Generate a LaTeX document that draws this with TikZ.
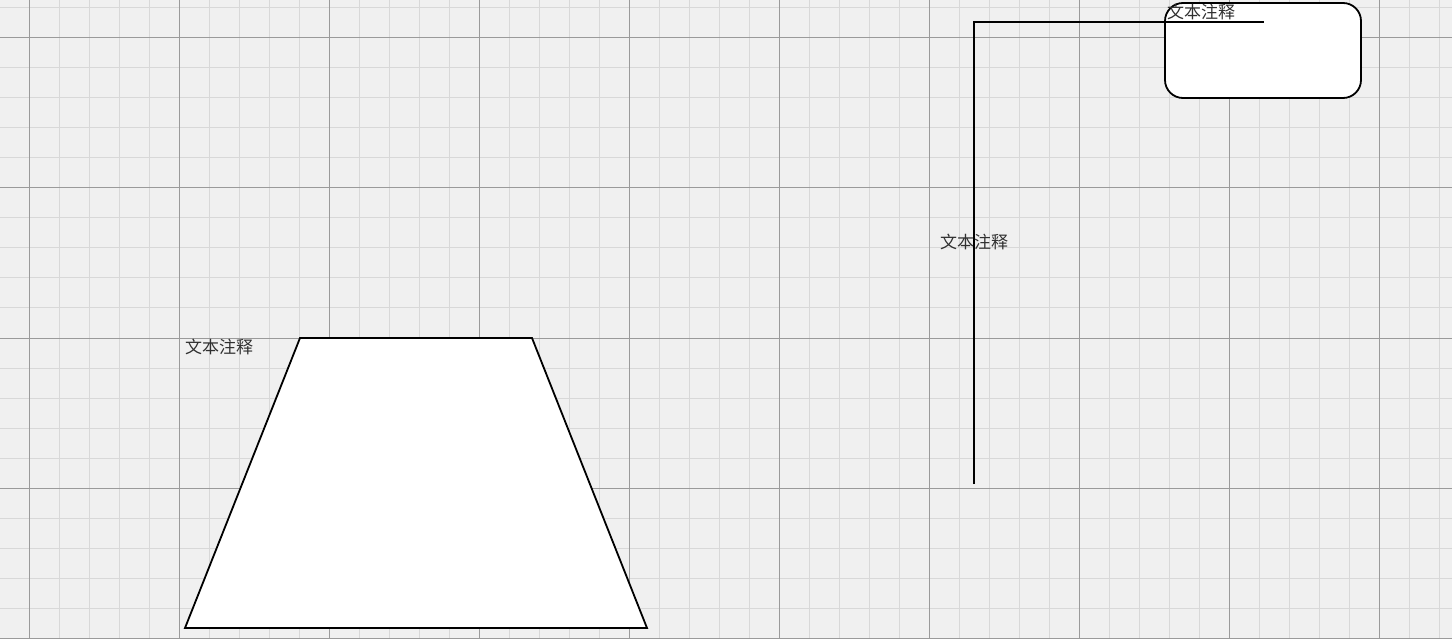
\documentclass[tikz,border=0pt]{standalone}
\usepackage{fontspec}
\newfontfamily\cjk{Noto Sans CJK SC}
\definecolor{paper}{HTML}{F0F0F0}
\definecolor{minorgrid}{HTML}{D8D8D8}
\definecolor{majorgrid}{HTML}{9A9A9A}
\definecolor{notetext}{HTML}{303030}
\begin{document}
\begin{tikzpicture}[x=1pt, y=-1pt,
  shapeline/.style={draw=black, line width=1.8pt, fill=white},
  notelabel/.style={font=\cjk\fontsize{17}{17}\selectfont, text=notetext, inner sep=0pt}]
\useasboundingbox (0,0) rectangle (1452,639);
\fill[paper] (0,0) rectangle (1452,639);

% grid
\foreach \x in {29,59,...,1439} \draw[minorgrid, line width=1pt] (\x,0) -- (\x,639);
\foreach \y in {8,38,...,638} \draw[minorgrid, line width=1pt] (0,\y) -- (1452,\y);
\foreach \x in {29,179,...,1379} \draw[majorgrid, line width=1pt] (\x,0) -- (\x,639);
\foreach \y in {38,188,...,638} \draw[majorgrid, line width=1pt] (0,\y) -- (1452,\y);

% trapezoid
\draw[shapeline, line join=miter] (300,338) coordinate (tl) -- (532,338) coordinate (tr)
  -- (647,628) coordinate (br) -- (185,628) coordinate (bl) -- cycle;
\node[notelabel, anchor=west] (lbltrap) at (185,347) {文本注释};

% rounded box
\node[shapeline, rounded corners=18pt, minimum width=196pt, minimum height=95pt,
  inner sep=0pt] (box) at (1263,50.5) {};
\node[notelabel, anchor=west] (lblbox) at (1167,12) {文本注释};

% connector
\coordinate (start) at (974,484);
\coordinate (tip) at (1264,22);
\draw[line width=1.8pt] (start) |- (tip)
  node[notelabel, pos=0.262] (lblline) {文本注释};
\end{tikzpicture}
\end{document}
